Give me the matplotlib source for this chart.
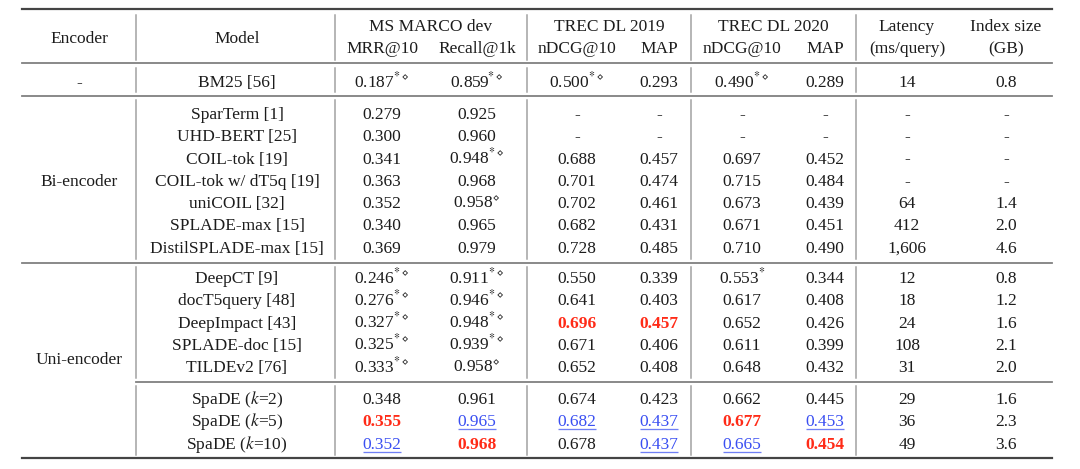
import matplotlib
matplotlib.use("Agg")
import matplotlib.pyplot as plt

plt.rcParams["font.family"] = ["Liberation Serif", "DejaVu Serif"]
plt.rcParams["mathtext.fontset"] = "stix"

# --- table data ---
encoders = ["-", "Bi-encoder", "Uni-encoder"]
models = ["BM25 [56]",
          "SparTerm [1]", "UHD-BERT [25]", "COIL-tok [19]", "COIL-tok w/ dT5q [19]",
          "uniCOIL [32]", "SPLADE-max [15]", "DistilSPLADE-max [15]",
          "DeepCT [9]", "docT5query [48]", "DeepImpact [43]", "SPLADE-doc [15]", "TILDEv2 [76]",
          "SpaDE ($k$=2)", "SpaDE ($k$=5)", "SpaDE ($k$=10)"]
mrr10 = ["0.187*◇", "0.279", "0.300", "0.341", "0.363", "0.352", "0.340", "0.369",
         "0.246*◇", "0.276*◇", "0.327*◇", "0.325*◇", "0.333*◇", "0.348", "0.355", "0.352"]
recall1k = ["0.859*◇", "0.925", "0.960", "0.948*◇", "0.968", "0.958◇", "0.965", "0.979",
            "0.911*◇", "0.946*◇", "0.948*◇", "0.939*◇", "0.958◇", "0.961", "0.965", "0.968"]
ndcg19 = ["0.500*◇", "-", "-", "0.688", "0.701", "0.702", "0.682", "0.728",
          "0.550", "0.641", "0.696", "0.671", "0.652", "0.674", "0.682", "0.678"]
map19 = ["0.293", "-", "-", "0.457", "0.474", "0.461", "0.431", "0.485",
         "0.339", "0.403", "0.457", "0.406", "0.408", "0.423", "0.437", "0.437"]
ndcg20 = ["0.490*◇", "-", "-", "0.697", "0.715", "0.673", "0.671", "0.710",
          "0.553*", "0.617", "0.652", "0.611", "0.648", "0.662", "0.677", "0.665"]
map20 = ["0.289", "-", "-", "0.452", "0.484", "0.439", "0.451", "0.490",
         "0.344", "0.408", "0.426", "0.399", "0.432", "0.445", "0.453", "0.454"]
latency = ["14", "-", "-", "-", "-", "64", "412", "1,606",
           "12", "18", "24", "108", "31", "29", "36", "49"]
index_size = ["0.8", "-", "-", "-", "-", "1.4", "2.0", "4.6",
              "0.8", "1.2", "1.6", "2.1", "2.0", "1.6", "2.3", "3.6"]

# (row, column) of best (red bold) and second best (blue underlined)
best = [(10, 2), (10, 3), (14, 0), (14, 4), (15, 1), (15, 5)]
second = [(14, 1), (14, 2), (14, 3), (14, 5), (15, 0), (15, 3), (15, 4)]

# --- layout (pixels) ---
W, H = 1080, 469
FS = 12.5
TXT = "#1c1c1c"
RED = "#ff2b17"
BLUE = "#3a4ff2"
X_LEFT, X_RIGHT = 22, 1052
VLINES = [136, 335, 527, 691, 856]
COLS_X = [382, 477, 577, 659, 742, 825, 907, 1006]
ENC_X, MODEL_X = 79, 237
PITCH = 22.3
ROW_Y = [81] + [113 + i * PITCH for i in range(7)] + \
        [277 + i * PITCH for i in range(5)] + [398 + i * PITCH for i in range(3)]
ENC_Y = [81, ROW_Y[4], 358]

fig = plt.figure(figsize=(W / 100, H / 100), dpi=100)
ax = fig.add_axes([0, 0, 1, 1])
ax.set_xlim(0, W)
ax.set_ylim(H, 0)
ax.axis("off")


def px(w):
    return w * 0.72


def cell(x, y, s, **kw):
    # y is the visual middle of digits; put baseline a bit lower
    return ax.text(x, y + 6, s, ha="center", va="baseline", fontsize=FS,
                   color=kw.pop("color", TXT), **kw)


def fmt(s):
    val = s.rstrip("*◇")
    sup = s[len(val):]
    if not sup:
        return val
    sup = sup.replace("◇", r"\diamond")
    return val + "$^{" + sup + "}$"


# header
cell(ENC_X, 37, "Encoder")
cell(MODEL_X, 37, "Model")
groups = [("MS MARCO dev", 431), ("TREC DL 2019", 609), ("TREC DL 2020", 773)]
for name, gx in groups:
    cell(gx, 25, name)
sub = ["MRR@10", "Recall@1k", "nDCG@10", "MAP", "nDCG@10", "MAP"]
for j, s in enumerate(sub):
    cell(COLS_X[j], 47, s)
cell(COLS_X[6], 25, "Latency")
cell(COLS_X[6], 47, "(ms/query)")
cell(COLS_X[7], 25, "Index size")
cell(COLS_X[7], 47, "(GB)")

# body
for y, s in zip(ENC_Y, encoders):
    cell(ENC_X, y, s)

columns = [mrr10, recall1k, ndcg19, map19, ndcg20, map20, latency, index_size]
renderer = fig.canvas.get_renderer()
inv = ax.transData.inverted()
for i, y in enumerate(ROW_Y):
    cell(MODEL_X, y, models[i])
    for j, col in enumerate(columns):
        if (i, j) in best:
            cell(COLS_X[j], y, fmt(col[i]), color=RED, fontweight="bold")
        elif (i, j) in second:
            t = cell(COLS_X[j], y, fmt(col[i]), color=BLUE)
            bb = t.get_window_extent(renderer)
            (x0, _), (x1, _) = inv.transform([(bb.x0, 0), (bb.x1, 0)])
            ax.plot([x0, x1], [y + 9, y + 9], color="#6f7ff5", lw=px(1.3),
                    solid_capstyle="butt")
        else:
            cell(COLS_X[j], y, fmt(col[i]))

# rules
ax.plot([X_LEFT, X_RIGHT], [9, 9], color="#444444", lw=px(2.2))
ax.plot([X_LEFT, X_RIGHT], [458, 458], color="#444444", lw=px(2.2))
for y in [63, 96, 263]:
    ax.plot([X_LEFT, X_RIGHT], [y, y], color="#808080", lw=px(1.8))
ax.plot([VLINES[0], X_RIGHT], [382, 382], color="#808080", lw=px(1.8))

segments = [(15, 60), (68, 92), (100, 259), (267, 378), (386, 455)]
for x in VLINES:
    for y0, y1 in segments:
        ax.plot([x, x], [y0, y1], color="#a0a0a0", lw=px(1.5))

fig.savefig("out.png", dpi=100, facecolor="white")
